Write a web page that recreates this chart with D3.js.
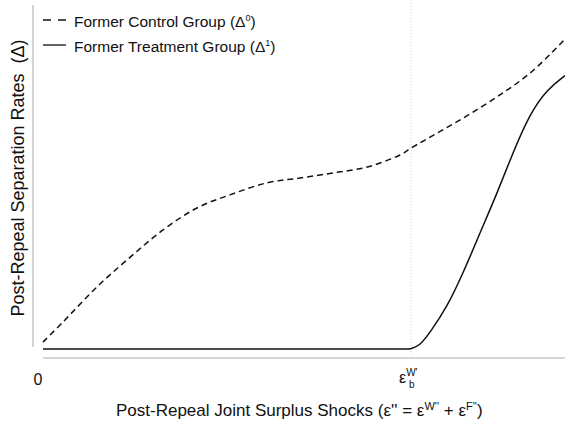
<!DOCTYPE html>
<html lang="en">
<head>
<meta charset="utf-8">
<title>Post-Repeal Separation Rates</title>
<script src="https://d3js.org/d3.v7.min.js"></script>
<style>
  body { margin: 0; background: #fff; }
  text { font-family: "Liberation Sans", Arial, sans-serif; fill: #111; }
</style>
</head>
<body>
<script>
// shock values (0..10 scale) and separation rates
var controlX = [0, 0.38, 1.03, 1.67, 2.30, 2.95, 3.58, 4.29, 4.92, 5.56, 6.21, 6.84, 7.05, 8.37, 9.33, 10];
var controlY = [0.20, 0.78, 1.80, 2.67, 3.46, 4.10, 4.48, 4.83, 4.97, 5.12, 5.29, 5.64, 5.84, 7.01, 8.02, 9.01];
var treatX = [0, 3.5, 6.8, 6.95, 7.05, 7.22, 7.41, 7.74, 8.05, 8.37, 8.70, 9.00, 9.33, 9.66, 10];
var treatY = [0, 0, 0, 0, 0, 0.10, 0.47, 1.22, 2.21, 3.37, 4.53, 5.70, 6.85, 7.55, 7.95];
var threshold = 7.05;
var legendLabels = ["Former Control Group (Δ", "Former Treatment Group (Δ"];
var legendSup = ["0", "1"];

var width = 565, height = 422;

var svg = d3.select("body").append("svg")
  .attr("width", width)
  .attr("height", height);

var x = d3.scaleLinear().domain([0, 10]).range([43, 565]);
var y = d3.scaleLinear().domain([0, 10]).range([349, 5]);

// axis lines (plain grey, no ticks)
svg.append("line")
  .attr("x1", 33).attr("x2", 33)
  .attr("y1", 5).attr("y2", 347)
  .attr("stroke", "#c8c8c8").attr("stroke-width", 1.6);
svg.append("line")
  .attr("x1", x(0)).attr("x2", x(10))
  .attr("y1", 358).attr("y2", 358)
  .attr("stroke", "#c8c8c8").attr("stroke-width", 1.6);

// threshold marker
svg.append("line")
  .attr("x1", x(threshold)).attr("x2", x(threshold))
  .attr("y1", 0).attr("y2", 357)
  .attr("stroke", "#cfcfcf").attr("stroke-width", 1)
  .attr("stroke-dasharray", "1,2");

var basisLine = d3.line()
  .x(function(d) { return x(d[0]); })
  .y(function(d) { return y(d[1]); })
  .curve(d3.curveBasis);

var smoothLine = d3.line()
  .x(function(d) { return x(d[0]); })
  .y(function(d) { return y(d[1]); })
  .curve(d3.curveCatmullRom.alpha(0.5));

svg.append("path")
  .datum(d3.zip(treatX, treatY))
  .attr("d", basisLine)
  .attr("fill", "none")
  .attr("stroke", "#111")
  .attr("stroke-width", 1.5);

svg.append("path")
  .datum(d3.zip(controlX, controlY))
  .attr("d", smoothLine)
  .attr("fill", "none")
  .attr("stroke", "#111")
  .attr("stroke-width", 1.5)
  .attr("stroke-dasharray", "6,4");

// legend
var legend = svg.append("g");
legendLabels.forEach(function(lab, i) {
  var ly = 20 + i * 25;
  legend.append("line")
    .attr("x1", 43).attr("x2", 66)
    .attr("y1", ly).attr("y2", ly)
    .attr("stroke", "#111").attr("stroke-width", 1.3)
    .attr("stroke-dasharray", i == 0 ? "8,7" : null);
  var t = legend.append("text")
    .attr("x", 74).attr("y", ly + 7)
    .attr("font-size", 15.5);
  t.append("tspan").text(lab);
  t.append("tspan").attr("font-size", 9).attr("dy", -6).text(legendSup[i]);
  t.append("tspan").attr("dy", 6).text(")");
});

// tick labels
svg.append("text")
  .attr("x", 38).attr("y", 385)
  .attr("text-anchor", "middle")
  .attr("font-size", 16)
  .text("0");

var tk = svg.append("text")
  .attr("x", 399).attr("y", 383)
  .attr("font-size", 16);
tk.append("tspan").text("ε");
tk.append("tspan").attr("font-size", 10).attr("dy", -7).text("W'");
tk.append("tspan").attr("font-size", 10).attr("x", 409).attr("dy", 12).text("b");

// axis titles
var xt = svg.append("text")
  .attr("x", 116).attr("y", 416)
  .attr("font-size", 17);
xt.append("tspan").text("Post-Repeal Joint Surplus Shocks (ε'' = ε");
xt.append("tspan").attr("font-size", 11).attr("dy", -6).text("W''");
xt.append("tspan").attr("dy", 6).text(" + ε");
xt.append("tspan").attr("font-size", 11).attr("dy", -6).text("F''");
xt.append("tspan").attr("dy", 6).text(")");

svg.append("text")
  .attr("transform", "translate(24,178) rotate(-90)")
  .attr("text-anchor", "middle")
  .attr("font-size", 18)
  .attr("xml:space", "preserve")
  .text("Post-Repeal Separation Rates  (Δ)");
</script>
</body>
</html>
